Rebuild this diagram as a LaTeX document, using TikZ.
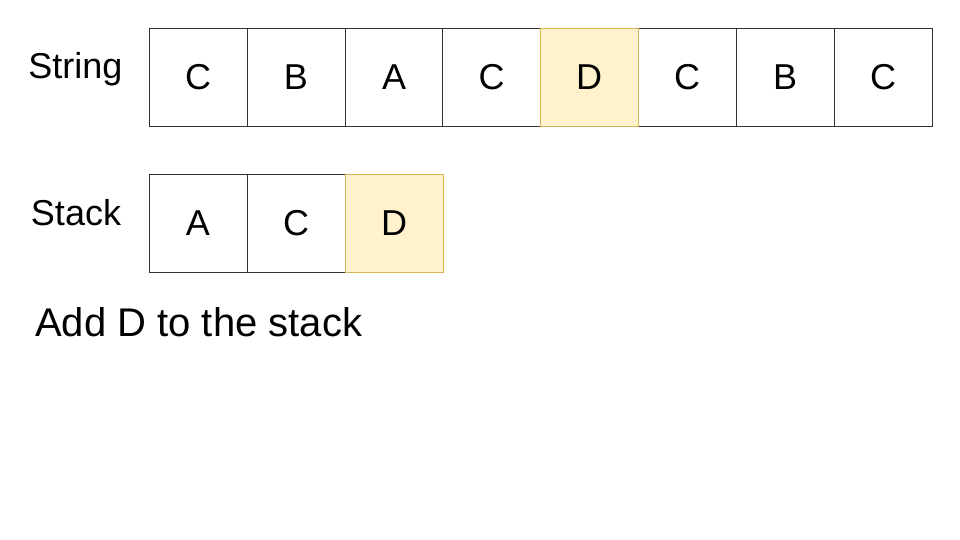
\documentclass[tikz,border=0pt]{standalone}
\usepackage{fontspec}
\setmainfont{Liberation Sans}
\definecolor{hlfill}{HTML}{FFF2CC}
\definecolor{hldraw}{HTML}{D6B656}
\definecolor{boxdraw}{HTML}{333333}
\tikzset{
  cell/.style={draw=boxdraw, line width=0.9pt, fill=white, minimum width=98pt, minimum height=98pt, inner sep=0pt, outer sep=0pt, font=\fontsize{36}{40}\selectfont},
  hl/.style={cell, fill=hlfill, draw=hldraw},
  lbl/.style={inner sep=0pt, font=\fontsize{36}{40}\selectfont},
}
\begin{document}
\begin{tikzpicture}[x=1pt,y=-1pt]
\useasboundingbox (0,0) rectangle (960,540);
% String row
\node[cell] (s1) at (198,77) {C};
\node[cell] (s2) at (296,77) {B};
\node[cell] (s3) at (394,77) {A};
\node[cell] (s4) at (491.5,77) {C};
\node[cell] (s6) at (687,77) {C};
\node[cell] (s7) at (785,77) {B};
\node[cell] (s8) at (883,77) {C};
\node[hl] (s5) at (589,77) {D};
% Stack row
\node[cell] (k1) at (198,223.5) {A};
\node[cell] (k2) at (296,223.5) {C};
\node[hl] (k3) at (394,223.5) {D};
% Labels
\node[lbl, anchor=base] (lstring) at (75.5,78.3) {String};
\node[lbl, anchor=base] (lstack) at (76,225) {Stack};
\node[inner sep=0pt, anchor=base west, font=\fontsize{40}{44}\selectfont] (caption) at (35,336.7) {Add D to the stack};
\end{tikzpicture}
\end{document}
